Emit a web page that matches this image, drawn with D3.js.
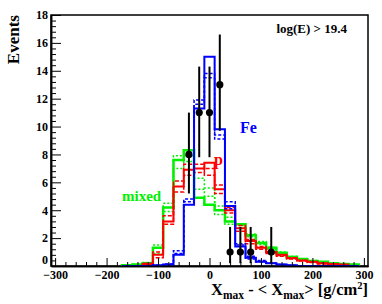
<!DOCTYPE html>
<html>
<head>
<meta charset="utf-8">
<script src="https://cdn.jsdelivr.net/npm/d3@7"></script>
<style>
  body { margin: 0; background: #fff; }
  text { font-family: "Liberation Serif", "DejaVu Serif", serif; font-weight: bold; }
</style>
</head>
<body>
<svg id="svg1" width="382" height="304"></svg>
<script>
// bin centres (bin width 20 g/cm2)
const binCenters = [-160,-140,-120,-100,-80,-60,-40,-20,0,20,40,60,80,100,120,140,160,180,200,220,240,260,280];

// Fe : solid + two dashed variants
const feSolid  = [0,0,0,0.05,0.1,0.8,4.4,11.3,15.0,9.8,4.3,1.4,0.6,0.3,0.2,0.1,0.05,0,0,0,0,0,0];
const feDash1  = [0,0,0,0.05,0.15,1.1,4.8,11.9,13.8,9.4,4.1,1.6,0.7,0.4,0.2,0.1,0.05,0,0,0,0,0,0];
const feDash2  = [0,0,0,0.05,0.1,0.9,4.6,11.6,13.5,9.1,4.6,1.5,0.5,0.3,0.2,0.1,0,0,0,0,0,0,0];

// proton
const pSolid   = [0,0,0.15,0.8,3.2,5.7,6.9,7.0,7.4,5.5,4.0,2.7,1.8,1.3,1.0,0.8,0.55,0.4,0.3,0.2,0.15,0.1,0];
const pDash1   = [0,0,0.2,1.0,3.6,6.1,7.3,6.7,7.0,5.8,4.2,2.9,1.6,1.4,0.9,0.7,0.5,0.35,0.25,0.2,0.1,0.05,0];
const pDash2   = [0,0,0.1,0.6,3.0,5.3,6.5,7.3,6.5,5.2,3.8,2.5,1.9,1.2,1.0,0.75,0.6,0.4,0.3,0.15,0.1,0.05,0];

// mixed composition
const mixSolid = [0.05,0.1,0.2,1.3,4.2,7.6,8.3,4.9,4.4,4.0,3.2,3.0,2.2,1.65,1.3,0.95,0.65,0.5,0.35,0.3,0.2,0.15,0.1];
const mixDot1  = [0.05,0.1,0.25,1.5,4.5,7.9,7.5,6.3,5.6,4.3,3.5,2.9,2.3,1.75,1.35,1.0,0.7,0.5,0.4,0.3,0.2,0.15,0.1];
const mixDot2  = [0.05,0.1,0.2,0.9,3.9,7.0,7.9,5.5,5.0,3.7,3.0,2.7,2.1,1.55,1.2,0.9,0.6,0.45,0.35,0.25,0.2,0.1,0.05];

// data points with error bars
const dataX  = [-40,-20,0,20,40,60,80,120];
const dataY  = [8,11,11,13,1,1,1,1];
const dataLo = [5.2,7.8,7.8,9.7,0.2,0.2,0.2,0.2];
const dataHi = [11.0,14.3,14.3,16.6,2.8,2.8,2.8,2.8];

const xMajor = [-300,-200,-100,0,100,200,300];
const yMajor = [0,2,4,6,8,10,12,14,16,18];

const svg = d3.select("#svg1"),
      fLeft = 51, fRight = 368, fTop = 15, fBottom = 266,
      x = d3.scaleLinear().domain([-308, 308]).range([fLeft, fRight]),
      y = d3.scaleLinear().domain([0, 18]).range([fBottom, fTop]);

// frame
svg.append("rect")
  .attr("x", fLeft).attr("y", fTop)
  .attr("width", fRight - fLeft).attr("height", fBottom - fTop)
  .attr("fill", "none").attr("stroke", "#000").attr("stroke-width", 1.5);

// step outline of a histogram
function histPath(vals) {
  const pts = [[binCenters[0] - 10, 0]];
  vals.forEach((v, i) => {
    pts.push([binCenters[i] - 10, v]);
    pts.push([binCenters[i] + 10, v]);
  });
  pts.push([binCenters[binCenters.length - 1] + 10, 0]);
  return d3.line().x(d => x(d[0])).y(d => y(d[1]))(pts);
}

const green = "#00f000";
const hists = [
  {vals: mixDot1,  color: green,     w: 1.5, dash: "2,2"},
  {vals: mixDot2,  color: green,     w: 1.5, dash: "2,2"},
  {vals: mixSolid, color: green,     w: 2.5, dash: null},
  {vals: pDash1,   color: "#ff0000", w: 1.5, dash: "4,2"},
  {vals: pDash2,   color: "#ff0000", w: 1.5, dash: "4,2"},
  {vals: pSolid,   color: "#ff0000", w: 2,   dash: null},
  {vals: feDash1,  color: "#0000ff", w: 1.5, dash: "3,2"},
  {vals: feDash2,  color: "#0000ff", w: 1.5, dash: "3,2"},
  {vals: feSolid,  color: "#0000ff", w: 2,   dash: null}
];

svg.selectAll(".hist")
  .data(hists)
  .enter().append("path")
    .attr("class", "hist")
    .attr("d", d => histPath(d.vals))
    .attr("fill", "none")
    .attr("stroke", d => d.color)
    .attr("stroke-width", d => d.w)
    .attr("stroke-dasharray", d => d.dash);

// axes (ticks pointing inside, ROOT style)
const xMinor = d3.range(-300, 301, 20).filter(v => v % 100 !== 0);
const yMinor = d3.range(0, 18.01, 0.4).filter(v => Math.abs(v / 2 - Math.round(v / 2)) > 0.01);

const gx = svg.append("g").attr("transform", `translate(0,${fBottom})`);
gx.call(d3.axisBottom(x).tickValues(xMinor).tickSizeInner(-4).tickSizeOuter(0).tickFormat(""));
gx.append("g").call(d3.axisBottom(x).tickValues(xMajor).tickSizeInner(-8).tickSizeOuter(0).tickPadding(4));

const gy = svg.append("g").attr("transform", `translate(${fLeft},0)`);
gy.call(d3.axisLeft(y).tickValues(yMinor).tickSizeInner(-5).tickSizeOuter(0).tickFormat(""));
gy.append("g").call(d3.axisLeft(y).tickValues(yMajor).tickSizeInner(-10).tickSizeOuter(0).tickPadding(3));

svg.selectAll(".domain").attr("stroke", "#000").attr("stroke-width", 1.5);
svg.selectAll(".tick line").attr("stroke", "#000");
svg.selectAll(".tick text")
  .attr("fill", "#000")
  .style("font-family", "'Liberation Serif', serif")
  .style("font-weight", "bold")
  .style("font-size", "12px");
// keep the "0" of the y axis clear of the "-300" below it
gy.selectAll(".tick text").filter(d => d === 0).attr("dy", "-0.2em");

// data points
const pts = svg.append("g");
pts.selectAll("line")
  .data(dataX)
  .enter().append("line")
    .attr("x1", d => x(d)).attr("x2", d => x(d))
    .attr("y1", (d, i) => y(dataLo[i]))
    .attr("y2", (d, i) => y(dataHi[i]))
    .attr("stroke", "#000").attr("stroke-width", 2);
pts.selectAll("circle")
  .data(dataX)
  .enter().append("circle")
    .attr("cx", d => x(d))
    .attr("cy", (d, i) => y(dataY[i]))
    .attr("r", 3.6)
    .attr("fill", "#000");

// labels
svg.append("text").attr("x", 240).attr("y", 133)
  .attr("fill", "#0000ff").style("font-size", "16px").text("Fe");
svg.append("text").attr("x", 214).attr("y", 165)
  .attr("fill", "#ff0000").style("font-size", "16px").text("p");
svg.append("text").attr("x", 122).attr("y", 201)
  .attr("fill", green).style("font-size", "15px").text("mixed");
svg.append("text").attr("x", 347).attr("y", 33).attr("text-anchor", "end")
  .attr("fill", "#000").style("font-size", "13px").text("log(E) > 19.4");

// axis titles
svg.append("text")
  .attr("transform", `translate(19,${fTop}) rotate(-90)`)
  .attr("text-anchor", "end")
  .style("font-size", "17px").text("Events");

const xt = svg.append("text").attr("x", fRight).attr("y", 295)
  .attr("text-anchor", "end").style("font-size", "16.5px");
xt.append("tspan").text("X");
xt.append("tspan").attr("dy", 3.5).style("font-size", "11.5px").text("max");
xt.append("tspan").attr("dy", -3.5).text(" - < X");
xt.append("tspan").attr("dy", 3.5).style("font-size", "11.5px").text("max");
xt.append("tspan").attr("dy", -3.5).text("> [g/cm");
xt.append("tspan").attr("dy", -6).style("font-size", "10.5px").text("2");
xt.append("tspan").attr("dy", 6).text("]");
</script>
</body>
</html>
